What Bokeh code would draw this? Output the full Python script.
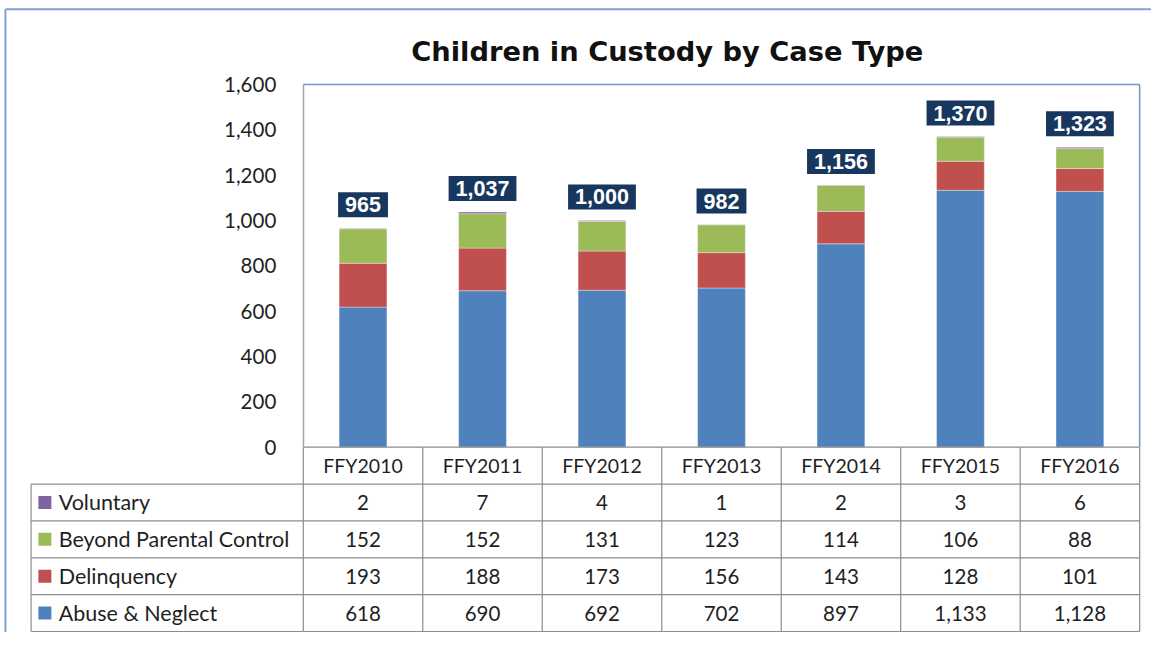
from bokeh.plotting import figure
from bokeh.models import Range1d, LinearAxis, FixedTicker, NumeralTickFormatter, ColumnDataSource
from bokeh.embed import file_html
from bokeh.resources import INLINE
from bokeh.core.properties import value

# ---------------- data ----------------
years = ["FFY2010", "FFY2011", "FFY2012", "FFY2013", "FFY2014", "FFY2015", "FFY2016"]
abuse_neglect = [618, 690, 692, 702, 897, 1133, 1128]
delinquency = [193, 188, 173, 156, 143, 128, 101]
beyond_parental_control = [152, 152, 131, 123, 114, 106, 88]
voluntary = [2, 7, 4, 1, 2, 3, 6]
series_names = ["Abuse & Neglect", "Delinquency", "Beyond Parental Control", "Voluntary"]
series_colors = ["#4F81BD", "#C0504D", "#9BBB59", "#8064A2"]
y_ticks = [0, 200, 400, 600, 800, 1000, 1200, 1400, 1600]
title_text = "Children in Custody by Case Type"

# ---------------- geometry ----------------
FW, FH = 1151, 632
SX, SY = FW / 1167, FH / 648            # reference px -> canvas px
PL, PR, PT, PB = 307 * SX, 1155 * SX, 86 * SY, 458 * SY   # plot area
N = len(years)
W = (PR - PL) / N                        # px per category
YMAX = y_ticks[-1]
K = YMAX / (PB - PT)                     # data units per px
RH = (647 - 458) / 5 * SY                # table row height px
LEG_L = 31 * SX                          # legend column left edge px
FS = SY                                  # font scale

x0 = -PL / W
x1 = (FW - PL) / W
y0 = -(FH - PB) * K
y1 = PB * K

def fpx(v):
    return f"{v * FS:.1f}px"

p = figure(width=FW, height=FH, output_backend="svg", toolbar_location=None,
           x_range=Range1d(x0, x1), y_range=Range1d(y0, y1),
           x_axis_type=None, y_axis_type=None, min_border=0,
           background_fill_color="white", border_fill_color="white")
p.outline_line_color = None
p.extra_y_ranges = {"tbl": Range1d(-(FH - PB) / RH, PB / RH)}

FONT = value("Lato")
TXT = "#1f1f1f"

# outer frame (top and left edges)
fx = x0 + 5 * SX / W
fy = y1 - 9 * SY * K
p.segment(x0=[fx, fx], y0=[fy, fy], x1=[x1, fx], y1=[fy, y0], line_color="#7FA3D1", line_width=2)

# title
p.text(x=[x0 + 676 * SX / W], y=[y1 - 52 * SY * K], text=[title_text], text_align="center",
       text_baseline="middle", text_font=value("DejaVu Sans"), text_font_style="bold",
       text_font_size=fpx(28), text_color="#111111")

# y axis placed at the plot-area's left edge
yaxis = LinearAxis(fixed_location=0, bounds=(0, YMAX), ticker=FixedTicker(ticks=y_ticks),
                   formatter=NumeralTickFormatter(format="0,0"))
yaxis.major_tick_line_color = None
yaxis.minor_tick_line_color = None
yaxis.axis_line_color = "#A6A6A6"
yaxis.axis_line_width = 1.5
yaxis.major_label_standoff = 21
yaxis.major_label_text_font = "Lato"
yaxis.major_label_text_font_size = fpx(21)
yaxis.major_label_text_color = TXT
p.add_layout(yaxis, "left")

# plot area top and right borders
p.segment(x0=[0, N], y0=[YMAX, YMAX], x1=[N, N], y1=[YMAX, 0], line_color="#6F95CC", line_width=1.5)

# stacked bars
xs = [i + 0.5 for i in range(N)]
src = ColumnDataSource(dict(x=xs, abuse=abuse_neglect, delinq=delinquency,
                            beyond=beyond_parental_control, vol=voluntary))
p.vbar_stack(["abuse", "delinq", "beyond", "vol"], x="x", width=0.4, color=series_colors,
             line_color="white", line_alpha=0.35, line_width=1, source=src)

# total labels
totals = [a + b + c + d for a, b, c, d in zip(abuse_neglect, delinquency, beyond_parental_control, voluntary)]
p.text(x=xs, y=totals, text=[f"{t:,}" for t in totals], text_align="center", text_baseline="bottom",
       y_offset=-11, text_color="white", text_font=value("Liberation Sans"), text_font_style="bold",
       text_font_size=fpx(22), background_fill_color="#17375E", padding=(7, 5))

# ---------------- data table ----------------
lx = (LEG_L - PL) / W
grid = "#8C8C8C"
hl = [0, -1, -2, -3, -4, -5]
p.segment(x0=[0] * 6, y0=hl, x1=[N] * 6, y1=hl, line_color=grid, line_width=1.2, y_range_name="tbl")
p.segment(x0=[lx] * 5, y0=hl[1:], x1=[0] * 5, y1=hl[1:], line_color=grid, line_width=1.2, y_range_name="tbl")
p.segment(x0=list(range(N + 1)), y0=[0] * (N + 1), x1=list(range(N + 1)), y1=[-5] * (N + 1),
          line_color=grid, line_width=1.2, y_range_name="tbl")
p.segment(x0=[lx], y0=[-1], x1=[lx], y1=[-5], line_color=grid, line_width=1.2, y_range_name="tbl")

# header
p.text(x=xs, y=[-0.5] * N, text=years, text_align="center", text_baseline="middle",
       text_font=FONT, text_font_size=fpx(20), text_color=TXT, y_range_name="tbl")

rows = [("Voluntary", voluntary, series_colors[3]),
        ("Beyond Parental Control", beyond_parental_control, series_colors[2]),
        ("Delinquency", delinquency, series_colors[1]),
        ("Abuse & Neglect", abuse_neglect, series_colors[0])]
for r, (name, vals, col) in enumerate(rows, start=1):
    yc = -(r + 0.5)
    p.scatter(x=[lx + 14 * SX / W], y=[yc], marker="square", size=13, fill_color=col, line_color=None,
              y_range_name="tbl")
    p.text(x=[lx], y=[yc], text=[name], x_offset=28 * SX, text_align="left", text_baseline="middle",
           text_font=FONT, text_font_size=fpx(22), text_color=TXT, y_range_name="tbl")
    p.text(x=xs, y=[yc] * N, text=[f"{v:,}" for v in vals], text_align="center", text_baseline="middle",
           text_font=FONT, text_font_size=fpx(21), text_color=TXT, y_range_name="tbl")

open("out.html", "w").write(file_html(p, INLINE))
